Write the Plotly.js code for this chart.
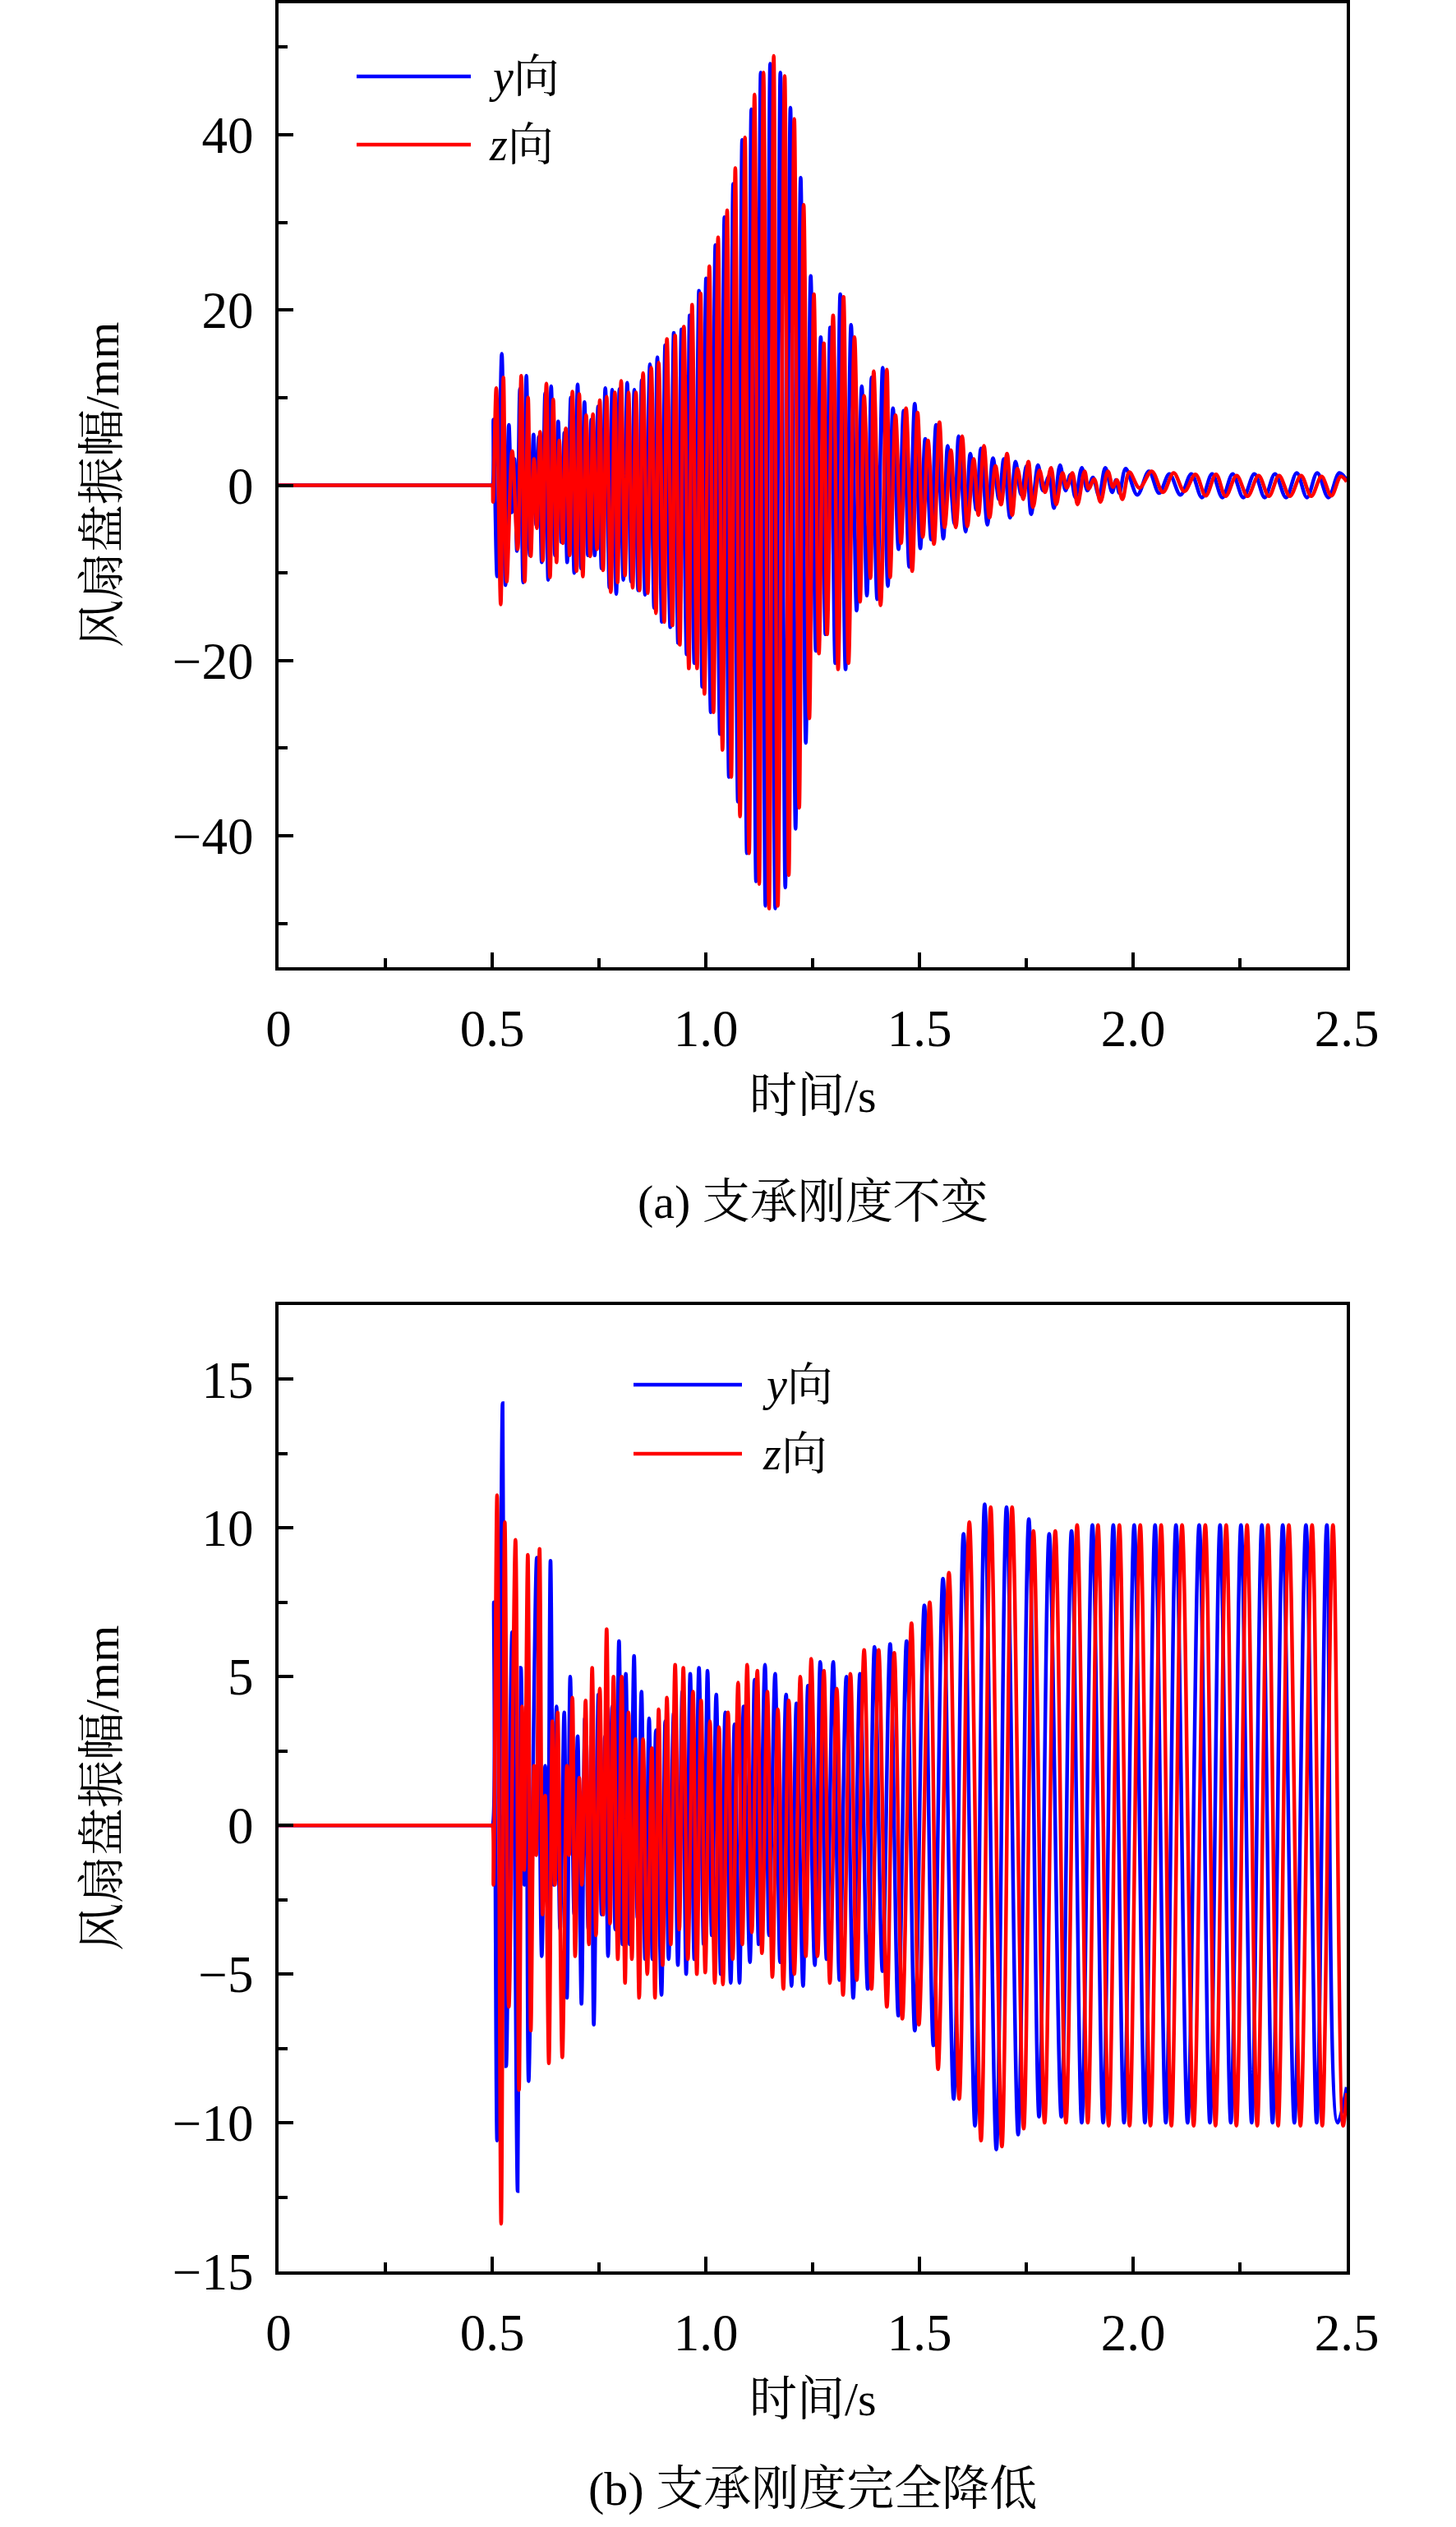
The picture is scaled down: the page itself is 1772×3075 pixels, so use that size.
<!DOCTYPE html>
<html>
<head>
<meta charset="utf-8">
<script src="https://cdn.plot.ly/plotly-3.0.1.min.js"></script>
<style>
  html, body { margin: 0; padding: 0; background: #fff; }
  #chart { width: 1772px; height: 3075px; }
</style>
</head>
<body>
<div id="chart"></div>
<script>
// Extremes (time s, amplitude mm), per trace

// (a) support stiffness unchanged, y direction
const aY = [
  [0, 0], [0.25, 0], [0.49, 0], [0.498, 0], [0.5, 0],
  [0.503, 7.5], [0.5115, -10.4], [0.5225, 15.0], [0.531, -11.4], [0.539, 6.9], [0.546, -3.1], [0.552, 3.0], [0.558, -7.5],
  [0.565, 11.0], [0.5725, -11.1], [0.58, 12.5], [0.588, -8.0], [0.5968, 5.8], [0.603, -4.5], [0.609, 5.5], [0.616, -8.8],
  [0.624, 10.5], [0.631, -10.8], [0.638, 11.3], [0.647, -8.0], [0.6545, 7.3], [0.662, -6.5], [0.669, 6.0], [0.6755, -8.8],
  [0.684, 10.0], [0.692, -10.0], [0.7, 11.5], [0.708, -9.5], [0.716, 9.5], [0.724, -8.0], [0.732, 7.5], [0.74, -8.0],
  [0.748, 9.0], [0.756, -9.5], [0.7648, 11.1], [0.7744, -11.7], [0.7808, 10.9], [0.7904, -12.4], [0.798, 11.0], [0.807, -10.8],
  [0.816, 11.7], [0.825, -11.0], [0.8327, 10.9], [0.8417, -12.0], [0.85, 12.0], [0.8577, -12.5], [0.8692, 13.8], [0.879, -14.0],
  [0.8865, 14.6], [0.897, -15.6], [0.905, 16.0], [0.9167, -16.2], [0.925, 17.4], [0.935, -18.0], [0.943, 17.8], [0.9551, -19.3],
  [0.9622, 19.4], [0.9731, -20.3], [0.984, 22.2], [0.9915, -23.0], [1.0006, 23.6],
  [1.0115, -25.9], [1.0224, 27.4], [1.033, -28.4], [1.0436, 30.6], [1.054, -33.3], [1.064, 34.4], [1.075, -36.1], [1.085, 39.4],
  [1.096, -42.0], [1.1065, 42.9], [1.1175, -45.2], [1.1285, 47.1], [1.1395, -48.0], [1.1506, 48.1], [1.1625, -48.3], [1.1745, 47.1],
  [1.186, -45.9], [1.198, 43.1], [1.21, -39.2], [1.222, 35.1], [1.234, -29.4], [1.2455, 23.9], [1.2575, -18.9], [1.269, 16.9],
  [1.28, -17.0], [1.291, 18.0], [1.303, -20.3], [1.3147, 21.8], [1.327, -21.0], [1.34, 18.3], [1.353, -14.3], [1.365, 11.3],
  [1.377, -12.6], [1.388, 12.3], [1.401, -13.0], [1.414, 13.4], [1.426, -11.5], [1.438, 8.8], [1.451, -7.3], [1.463, 8.5],
  [1.476, -9.3], [1.489, 9.3],
  [1.502, -7.2], [1.5135, 5.3], [1.5275, -6.2], [1.539, 6.9], [1.556, -6.1], [1.566, 4.5], [1.582, -4.4], [1.5917, 5.6],
  [1.608, -5.3], [1.619, 3.6], [1.633, -2.8], [1.644, 4.2], [1.659, -4.5], [1.672, 3.1], [1.686, -1.6], [1.6975, 3.0],
  [1.712, -3.7], [1.725, 2.7], [1.738, -1.1], [1.7506, 2.2], [1.7615, -3.3], [1.7776, 2.3], [1.789, -0.6], [1.803, 1.0],
  [1.8147, -2.6], [1.829, 2.3], [1.842, -0.6], [1.853, 1.2], [1.865, -1.4], [1.88, 2.0], [1.893, -0.6], [1.906, 0.9],
  [1.92, -1.2], [1.935, 2.0], [1.951, -0.8], [1.96, 0.6], [1.968, -0.9], [1.9827, 1.9],
  [2.01, -1.1], [2.037, 1.6], [2.061, -0.9], [2.085, 1.3], [2.111, -1.1], [2.1365, 1.3], [2.161, -1.4], [2.185, 1.3],
  [2.209, -1.4], [2.233, 1.3], [2.258, -1.4], [2.284, 1.3], [2.308, -1.4], [2.332, 1.3], [2.358, -1.4], [2.383, 1.4],
  [2.407, -1.4], [2.431, 1.4], [2.457, -1.4], [2.4827, 1.4], [2.5, 0.6]
];

// (a) z direction
const aZ = [
  [0, 0], [0.25, 0], [0.49, 0], [0.498, 0], [0.5, 0],
  [0.502, -1.9], [0.5096, 11.1], [0.52, -13.6], [0.5263, 12.3], [0.534, -11.0], [0.5468, 3.9], [0.5596, -7.3], [0.568, 12.5],
  [0.5762, -11.0], [0.584, 10.0], [0.5904, -8.1], [0.5981, 3.0], [0.6045, -4.9], [0.6122, 6.1], [0.6186, -8.6], [0.6269, 11.6],
  [0.6353, -10.5], [0.6429, 9.8], [0.6506, -8.8], [0.6571, 5.1], [0.6654, -6.6], [0.6724, 6.5], [0.6814, -8.0], [0.6878, 10.7],
  [0.6974, -9.8], [0.7038, 10.4], [0.7122, -10.4], [0.7199, 8.0], [0.7295, -8.1], [0.7359, 8.1], [0.7455, -7.3], [0.7519, 9.7],
  [0.7596, -9.7], [0.7679, 10.1], [0.7776, -12.2], [0.7872, 10.6], [0.7936, -11.1], [0.8019, 11.9], [0.8109, -10.3], [0.8192, 10.6],
  [0.8288, -11.7], [0.8365, 10.6], [0.8449, -12.0], [0.8532, 12.8], [0.8641, -12.3], [0.8724, 13.4], [0.8833, -14.6], [0.8897, 14.0],
  [0.9026, -15.6], [0.909, 16.7], [0.9218, -16.0], [0.9282, 17.1], [0.9391, -18.2], [0.9487, 18.1], [0.9603, -20.9], [0.9679, 20.6],
  [0.9795, -20.9], [0.9878, 21.9], [0.9968, -23.8],
  [1.0083, 25.0], [1.0179, -25.9], [1.0288, 28.3], [1.039, -30.2], [1.05, 31.4], [1.0596, -33.3], [1.069, 36.2], [1.0801, -37.8],
  [1.0917, 39.7], [1.1013, -42.0], [1.114, 44.6], [1.125, -45.5], [1.135, 47.1], [1.148, -48.3], [1.159, 49.0], [1.1686, -48.0],
  [1.1846, 46.7], [1.1942, -44.5], [1.207, 41.8], [1.2186, -36.8], [1.229, 32.0], [1.2423, -26.6], [1.253, 21.8], [1.2647, -19.2],
  [1.2763, 16.2], [1.284, -17.0], [1.298, 19.4], [1.3096, -21.0], [1.3224, 21.5], [1.334, -20.3], [1.348, 16.9], [1.361, -13.3],
  [1.3705, 10.2], [1.3853, -10.6], [1.393, 13.0], [1.409, -13.7], [1.4237, 13.2], [1.4314, -10.5], [1.444, 8.0], [1.457, -6.6],
  [1.4686, 8.8], [1.483, -9.8], [1.4955, 8.3],
  [1.508, -5.9], [1.52, 5.1], [1.534, -6.7], [1.5468, 7.2], [1.559, -4.8], [1.5737, 4.0], [1.585, -4.8], [1.6, 5.6],
  [1.612, -4.7], [1.627, 3.0], [1.638, -3.4], [1.651, 4.5], [1.664, -3.7], [1.678, 2.2], [1.691, -2.2], [1.705, 3.6],
  [1.717, -3.4], [1.7295, 1.9], [1.743, -1.6], [1.755, 2.7], [1.766, -2.5], [1.781, 1.7], [1.794, -0.8], [1.808, 2.0],
  [1.82, -2.2], [1.835, 1.4], [1.845, -0.3], [1.858, 1.4], [1.87, -2.2], [1.8865, 1.6], [1.896, -0.4], [1.909, 0.7],
  [1.9237, -1.9], [1.941, 1.6], [1.953, -0.2], [1.962, 0.6], [1.975, -1.6], [1.9913, 1.5],
  [2.015, -0.3], [2.0436, 1.6], [2.07, -0.8], [2.095, 1.4], [2.12, -0.7], [2.146, 1.25], [2.17, -1.2], [2.1942, 1.25],
  [2.2166, -1.25], [2.2423, 1.1], [2.268, -1.25], [2.2936, 1.1], [2.318, -1.25], [2.3417, 1.1], [2.367, -1.25], [2.393, 1.1],
  [2.417, -1.25], [2.441, 1.0], [2.464, -1.2], [2.486, 1.0], [2.5, 0.4]
];

// (b) support stiffness fully reduced, y direction
const bY = [
  [0, 0], [0.25, 0], [0.49, 0], [0.498, 0], [0.5, 0],
  [0.504, 7.5], [0.5115, -10.6], [0.5244, 14.2], [0.5327, -8.1], [0.5468, 6.5], [0.5596, -12.3], [0.5673, 5.3], [0.575, -2.0],
  [0.58, 3.0], [0.5853, -8.6], [0.6045, 9.0], [0.616, -4.4], [0.624, 2.0], [0.63, -3.0], [0.6365, 8.9], [0.644, -2.0],
  [0.6506, 4.0], [0.659, -3.5], [0.6686, 3.8], [0.675, -5.8], [0.6827, 5.0], [0.692, -3.0], [0.7, 3.0], [0.709, -6.0],
  [0.717, 3.6], [0.725, -3.5], [0.732, 3.0], [0.7378, -6.7], [0.7487, 4.4], [0.756, -3.0], [0.764, 3.0], [0.7712, -4.4],
  [0.7808, 4.0], [0.788, -3.5], [0.7968, 6.2], [0.805, -4.0], [0.8128, 5.1], [0.822, -4.0], [0.8321, 5.7], [0.84, -3.1],
  [0.8494, 4.5], [0.858, -4.5], [0.8673, 3.6], [0.875, -4.5], [0.8833, 3.2], [0.8962, -5.7], [0.905, 3.5], [0.913, -4.5],
  [0.925, 3.8], [0.9346, -4.7], [0.945, 4.5], [0.954, -5.0], [0.9635, 5.1], [0.973, -4.5], [0.984, 5.3],
  [0.995, -4.0], [1.004, 5.2], [1.014, -3.7], [1.0244, 4.4], [1.035, -5.0], [1.0455, 3.8], [1.0583, -5.3], [1.067, 3.4],
  [1.0788, -5.3], [1.0885, 4.0], [1.1032, -4.6], [1.1141, 4.9], [1.1237, -4.0], [1.1385, 5.4], [1.148, -3.7], [1.1622, 5.1],
  [1.1738, -4.6], [1.1878, 4.4], [1.2006, -5.4], [1.2122, 4.1], [1.2276, -5.4], [1.2391, 4.7], [1.255, -4.7], [1.2679, 5.5],
  [1.2827, -4.5], [1.2981, 5.5], [1.3128, -5.2], [1.3289, 5.0], [1.345, -5.8], [1.3609, 5.1], [1.3789, -5.5], [1.3949, 6.0],
  [1.4135, -4.9], [1.4314, 6.1], [1.4506, -6.4], [1.4699, 6.2], [1.4891, -6.9], [1.5115, 7.4], [1.5327, -7.4], [1.5551, 8.3],
  [1.5801, -9.2], [1.6032, 9.8], [1.6299, -10.1], [1.6527, 10.8], [1.6799, -10.9], [1.7038, 10.7], [1.731, -10.4], [1.756, 10.3],
  [1.7799, -9.8], [1.8037, 9.8], [1.832, -9.8], [1.8559, 9.9], [1.8798, -10.0], [1.9048, 10.1], [1.93, -10.0], [1.9537, 10.1],
  [1.9788, -10.0], [2.0026, 10.1], [2.0277, -10.0], [2.0515, 10.1], [2.0766, -10.0], [2.1004, 10.1], [2.1276, -10.0], [2.1547, 10.1],
  [2.1798, -10.0], [2.2036, 10.1], [2.2287, -10.0], [2.2525, 10.1], [2.2776, -10.0], [2.3014, 10.1], [2.3264, -10.0], [2.3503, 10.1],
  [2.3775, -10.0], [2.4046, 10.1], [2.4297, -10.0], [2.4535, 10.1], [2.4786, -10.0], [2.5, -8.8]
];

// (b) z direction
const bZ = [
  [0, 0], [0.25, 0], [0.49, 0], [0.498, 0], [0.5, 0],
  [0.503, -2.0], [0.5115, 11.1], [0.521, -13.4], [0.5295, 10.2], [0.539, -6.1], [0.5545, 9.6], [0.5628, -8.9], [0.57, 4.0],
  [0.575, -1.5], [0.5834, 9.1], [0.5904, -6.9], [0.598, 2.0], [0.603, -1.0], [0.6109, 9.3], [0.618, -3.0], [0.624, 1.0],
  [0.6327, -8.0], [0.641, 3.5], [0.647, -2.0], [0.6532, 3.8], [0.6641, -7.8], [0.675, 2.0], [0.68, -1.0], [0.6878, 4.3],
  [0.6942, -4.4], [0.7038, 1.6], [0.71, -2.0], [0.7186, 4.2], [0.7263, -4.0], [0.734, 5.3], [0.743, -3.7], [0.7519, 4.6],
  [0.76, -3.0], [0.7679, 6.6], [0.776, -3.3], [0.784, 5.0], [0.794, -4.5], [0.8032, 5.0], [0.811, -5.3], [0.8192, 3.8],
  [0.827, -4.5], [0.8353, 2.9], [0.844, -5.8], [0.8532, 2.9], [0.863, -5.0], [0.8737, 2.6], [0.881, -5.8], [0.8897, 3.9],
  [0.899, -4.7], [0.909, 4.3], [0.918, -4.0], [0.9282, 5.4], [0.938, -3.5], [0.9474, 5.3], [0.958, -4.5], [0.9699, 4.5],
  [0.979, -5.0], [0.989, 4.2],
  [0.9987, -4.95], [1.0096, 3.5], [1.021, -5.3], [1.031, 3.3], [1.04, -5.35], [1.052, 3.8], [1.0628, -4.5], [1.0756, 4.8],
  [1.0853, -4.0], [1.0968, 5.4], [1.1077, -3.6], [1.1205, 5.2], [1.1314, -4.3], [1.144, 4.5], [1.1558, -5.1], [1.1686, 3.9],
  [1.1814, -5.5], [1.1942, 4.2], [1.2071, -5.0], [1.2212, 5.0], [1.234, -4.4], [1.2468, 5.6], [1.2615, -4.4], [1.2763, 5.2],
  [1.2904, -5.3], [1.3064, 4.6], [1.3212, -5.7], [1.3385, 5.1], [1.3532, -5.2], [1.3705, 5.9], [1.3878, -5.5], [1.4045, 5.9],
  [1.4237, -6.1], [1.441, 5.8], [1.46, -6.5], [1.4814, 6.8], [1.4987, -6.7], [1.524, 7.5], [1.5436, -8.2], [1.569, 8.5],
  [1.5931, -9.2], [1.6168, 10.2], [1.6441, -10.6], [1.6668, 10.7], [1.693, -10.8], [1.7168, 10.7], [1.744, -10.2], [1.7668, 9.9],
  [1.7929, -10.0], [1.8179, 9.9], [1.8429, -10.0], [1.869, 10.1], [1.894, -10.0], [1.9179, 10.1], [1.9429, -10.1], [1.9679, 10.1],
  [1.9918, -10.1], [2.0168, 10.1], [2.0407, -10.1], [2.0657, 10.1], [2.0896, -10.1], [2.1146, 10.1], [2.1418, -10.1], [2.169, 10.1],
  [2.1929, -10.1], [2.2179, 10.1], [2.2418, -10.1], [2.2667, 10.1], [2.2906, -10.1], [2.3156, 10.1], [2.3395, -10.1], [2.3645, 10.1],
  [2.3917, -10.1], [2.4189, 10.1], [2.4428, -10.1], [2.4678, 10.1], [2.4916, -10.1], [2.5, -9.0]
];

// Axis ticks and labels
const xTickVals = [0, 0.5, 1.0, 1.5, 2.0, 2.5];
const xTickText = ["0", "0.5", "1.0", "1.5", "2.0", "2.5"];
const aYTickVals = [-40, -20, 0, 20, 40];
const bYTickVals = [-15, -10, -5, 0, 5, 10, 15];

const seriesNames = ["<i>y</i>向", "<i>z</i>向"];
const seriesColors = ["#0000ff", "#ff0000"];
const yTitle = "风扇盘振幅/mm";
const xTitle = "时间/s";
const captions = ["(a) 支承刚度不变", "(b) 支承刚度完全降低"];

const W = 1772, H = 3075;
const FONT = "'Liberation Serif', 'Noto Serif CJK SC', 'Noto Sans CJK SC', serif";

// pixel helpers for paper coordinates
const px = (x) => x / W;
const py = (y) => 1 - y / H;

function line(pairs, color, xa, ya) {
  return {
    x: pairs.map((p) => p[0]),
    y: pairs.map((p) => p[1]),
    type: "scatter",
    mode: "lines",
    xaxis: xa,
    yaxis: ya,
    showlegend: false,
    hoverinfo: "skip",
    line: { color: color, width: 4.5, shape: "spline", smoothing: 1 },
  };
}

const data = [
  line(aY, seriesColors[0], "x", "y"),
  line(aZ, seriesColors[1], "x", "y"),
  line(bY, seriesColors[0], "x2", "y2"),
  line(bZ, seriesColors[1], "x2", "y2"),
];

function xAxis(domain, anchor) {
  return {
    domain: domain,
    anchor: anchor,
    range: [0, 2.5],
    tickmode: "array",
    tickvals: xTickVals,
    ticktext: xTickText,
    ticks: "inside",
    ticklen: 18,
    tickwidth: 4,
    tickcolor: "#000",
    ticklabelstandoff: 16,
    minor: { tickmode: "linear", tick0: 0, dtick: 0.25, ticks: "inside", ticklen: 11, tickwidth: 4, tickcolor: "#000" },
    showline: true,
    linewidth: 4,
    linecolor: "#000",
    mirror: true,
    showgrid: false,
    zeroline: false,
    tickfont: { family: FONT, size: 63, color: "#000" },
  };
}

function yAxis(domain, anchor, range, vals, minorStep) {
  return {
    domain: domain,
    anchor: anchor,
    range: range,
    tickmode: "array",
    tickvals: vals,
    ticks: "inside",
    ticklen: 18,
    tickwidth: 4,
    tickcolor: "#000",
    ticklabelstandoff: 14,
    minor: { tickmode: "linear", tick0: 0, dtick: minorStep, ticks: "inside", ticklen: 11, tickwidth: 4, tickcolor: "#000" },
    showline: true,
    linewidth: 4,
    linecolor: "#000",
    mirror: true,
    showgrid: false,
    zeroline: false,
    tickfont: { family: FONT, size: 63, color: "#000" },
  };
}

const xDom = [px(339), px(1639)];

function text(str, x, y, opts) {
  return Object.assign({
    text: str, x: x, y: y, xref: "paper", yref: "paper",
    showarrow: false, xanchor: "center", yanchor: "middle",
    font: { family: FONT, size: 58, color: "#000" },
  }, opts || {});
}

// hand-drawn legends so the sample lines are as long as in the figure
const legendA = { x0: 434, x1: 573, x2: 593, rows: [93, 176] };
const legendB = { x0: 771, x1: 903, x2: 926, rows: [1685, 1769] };

const shapes = [];
const annotations = [];
[legendA, legendB].forEach((lg) => {
  lg.rows.forEach((row, i) => {
    shapes.push({
      type: "line", xref: "paper", yref: "paper",
      x0: px(lg.x0), x1: px(lg.x1), y0: py(row), y1: py(row),
      line: { color: seriesColors[i], width: 4.5 },
    });
    annotations.push(text(seriesNames[i], px(lg.x2), py(row), { xanchor: "left", font: { family: FONT, size: 56, color: "#000" } }));
  });
});

// axis titles and captions
annotations.push(text(yTitle, px(124), py(590), { textangle: -90 }));
annotations.push(text(yTitle, px(124), py(2176), { textangle: -90 }));
annotations.push(text(xTitle, px(989), py(1333)));
annotations.push(text(xTitle, px(989), py(2919)));
annotations.push(text(captions[0], px(989), py(1462)));
annotations.push(text(captions[1], px(989), py(3028)));

const layout = {
  width: W,
  height: H,
  margin: { l: 0, r: 0, t: 0, b: 0 },
  paper_bgcolor: "#fff",
  plot_bgcolor: "#fff",
  showlegend: false,
  xaxis: xAxis(xDom, "y"),
  yaxis: yAxis([py(1177), py(4)], "x", [-55, 55], aYTickVals, 10),
  xaxis2: xAxis(xDom, "y2"),
  yaxis2: yAxis([py(2764), py(1588)], "x2", [-15, 17.5], bYTickVals, 2.5),
  shapes: shapes,
  annotations: annotations,
};

Plotly.newPlot("chart", data, layout, { staticPlot: true, displayModeBar: false });
</script>
</body>
</html>
